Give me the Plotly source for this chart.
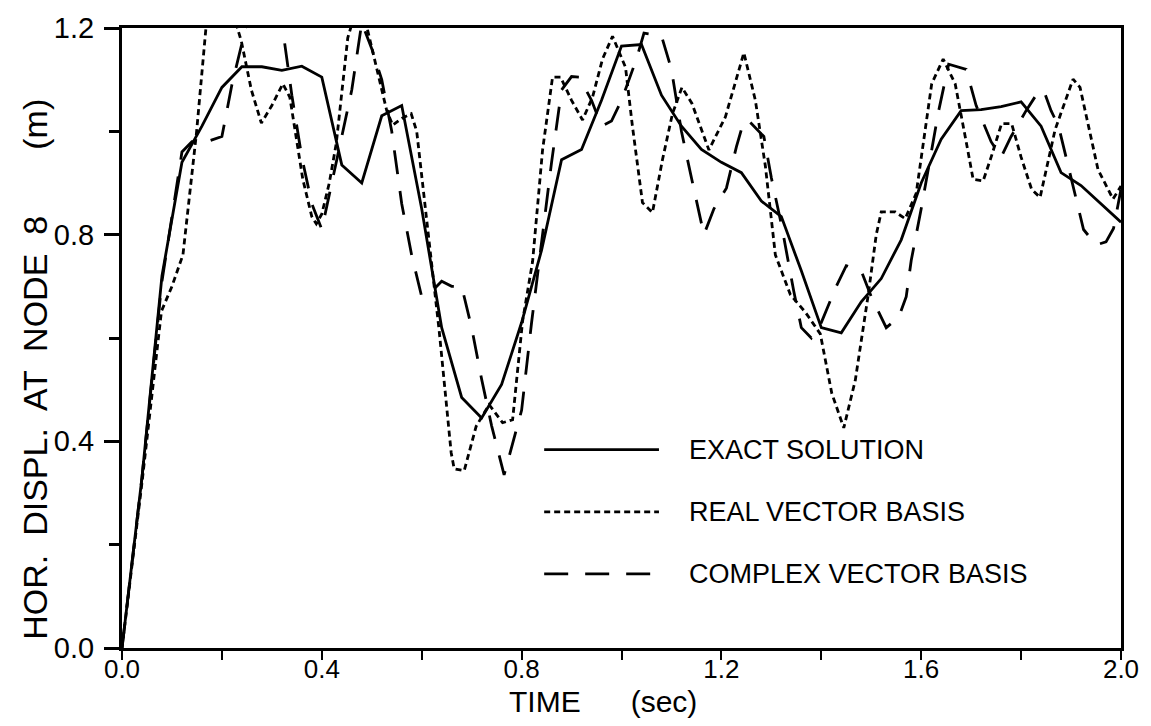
import plotly.graph_objects as go

# ---------------- data ----------------
t_exact = [0, 0.04, 0.08, 0.12, 0.16, 0.20, 0.24, 0.28, 0.32, 0.36, 0.40, 0.44, 0.48, 0.52,
           0.56, 0.60, 0.64, 0.68, 0.72, 0.76, 0.80, 0.84, 0.88, 0.92, 0.96, 1.00, 1.04, 1.08,
           1.12, 1.16, 1.20, 1.24, 1.28, 1.32, 1.36, 1.40, 1.44, 1.48, 1.52, 1.56, 1.60, 1.64,
           1.68, 1.72, 1.76, 1.80, 1.84, 1.88, 1.92, 1.96, 2.00]
y_exact = [0.00, 0.33, 0.72, 0.94, 1.01, 1.085, 1.125, 1.125, 1.118, 1.126, 1.105, 0.935, 0.90,
           1.03, 1.05, 0.85, 0.62, 0.485, 0.445, 0.51, 0.63, 0.77, 0.945, 0.965, 1.06, 1.165,
           1.168, 1.07, 1.01, 0.965, 0.94, 0.92, 0.865, 0.835, 0.73, 0.62, 0.61, 0.67, 0.715,
           0.79, 0.90, 0.985, 1.04, 1.042, 1.048, 1.057, 1.01, 0.92, 0.895, 0.86, 0.824]

t_real = [0, 0.04, 0.079, 0.10, 0.122, 0.149, 0.169, 0.20, 0.239, 0.259, 0.279, 0.30, 0.322,
          0.336, 0.362, 0.38, 0.389, 0.40, 0.415, 0.429, 0.452, 0.47, 0.489, 0.509, 0.53, 0.542,
          0.56, 0.579, 0.59, 0.609, 0.625, 0.635, 0.659, 0.665, 0.685, 0.709, 0.735, 0.762,
          0.782, 0.802, 0.822, 0.842, 0.862, 0.878, 0.90, 0.922, 0.942, 0.962, 0.982, 1.008,
          1.022, 1.042, 1.062, 1.082, 1.102, 1.121, 1.141, 1.175, 1.208, 1.245, 1.268, 1.288,
          1.308, 1.338, 1.368, 1.398, 1.421, 1.445, 1.468, 1.494, 1.51, 1.52, 1.548, 1.568,
          1.59, 1.621, 1.644, 1.668, 1.69, 1.704, 1.724, 1.74, 1.761, 1.781, 1.80, 1.821,
          1.838, 1.868, 1.904, 1.918, 1.954, 1.984, 2.0]
y_real = [0, 0.32, 0.652, 0.70, 0.761, 0.996, 1.21, 1.30, 1.174, 1.08, 1.016, 1.05, 1.092,
          1.066, 0.907, 0.835, 0.821, 0.84, 0.90, 0.977, 1.181, 1.24, 1.207, 1.124, 1.04,
          1.012, 1.025, 1.034, 1.0, 0.837, 0.697, 0.614, 0.378, 0.347, 0.343, 0.429, 0.471,
          0.436, 0.442, 0.633, 0.748, 0.964, 1.105, 1.105, 1.06, 1.022, 1.066, 1.14, 1.184,
          1.124, 1.009, 0.862, 0.843, 0.945, 1.034, 1.085, 1.054, 0.964, 1.028, 1.152, 1.06,
          0.933, 0.761, 0.684, 0.65, 0.608, 0.493, 0.426, 0.518, 0.684, 0.80, 0.844, 0.844,
          0.831, 0.88, 1.092, 1.14, 1.092, 0.98, 0.907, 0.904, 0.95, 1.015, 1.015, 0.95, 0.888,
          0.872, 1.003, 1.101, 1.085, 0.926, 0.869, 0.894]

t_cplx = [0, 0.04, 0.08, 0.12, 0.14, 0.17, 0.20, 0.22, 0.24, 0.255, 0.285, 0.32, 0.34, 0.36,
          0.38, 0.40, 0.42, 0.44, 0.46, 0.48, 0.50, 0.52, 0.54, 0.56, 0.58, 0.60, 0.62, 0.64,
          0.66, 0.68, 0.70, 0.72, 0.74, 0.765, 0.78, 0.80, 0.82, 0.83, 0.86, 0.88, 0.90, 0.915,
          0.94, 0.96, 0.98, 1.00, 1.03, 1.045, 1.08, 1.10, 1.12, 1.14, 1.155, 1.165, 1.185,
          1.21, 1.23, 1.245, 1.255, 1.285, 1.30, 1.32, 1.345, 1.36, 1.38, 1.40, 1.43, 1.45,
          1.48, 1.50, 1.53, 1.555, 1.57, 1.58, 1.60, 1.62, 1.635, 1.655, 1.69, 1.71, 1.74,
          1.76, 1.78, 1.81, 1.83, 1.845, 1.86, 1.875, 1.89, 1.91, 1.925, 1.95, 1.97, 1.985, 2.0]
y_cplx = [0, 0.33, 0.71, 0.96, 0.98, 0.98, 0.99, 1.09, 1.17, 1.23, 1.25, 1.21, 1.07, 0.95,
          0.86, 0.81, 0.90, 0.99, 1.08, 1.21, 1.16, 1.10, 1.00, 0.86, 0.76, 0.68, 0.69, 0.71,
          0.70, 0.70, 0.62, 0.52, 0.43, 0.335, 0.39, 0.46, 0.63, 0.71, 0.94, 1.08, 1.106,
          1.105, 1.06, 1.01, 1.02, 1.06, 1.14, 1.19, 1.185, 1.12, 1.00, 0.91, 0.84, 0.80, 0.85,
          0.89, 0.97, 1.02, 1.02, 0.99, 0.91, 0.82, 0.69, 0.62, 0.60, 0.63, 0.70, 0.74, 0.73,
          0.68, 0.62, 0.64, 0.68, 0.75, 0.85, 0.96, 1.04, 1.13, 1.12, 1.05, 0.98, 0.95, 0.99,
          1.04, 1.07, 1.08, 1.04, 1.01, 0.95, 0.87, 0.81, 0.78, 0.786, 0.812, 0.888]

series_names = ["EXACT SOLUTION", "REAL VECTOR BASIS", "COMPLEX VECTOR BASIS"]
x_tickvals = [0, 0.4, 0.8, 1.2, 1.6, 2.0]
x_ticktext = ["0.0", "0.4", "0.8", "1.2", "1.6", "2.0"]
y_tickvals = [0, 0.4, 0.8, 1.2]
y_ticktext = ["0.0", "0.4", "0.8", "1.2"]

# ---------------- styles ----------------
dashes = ["solid", "6px,4px", "24px,17px"]
SANS = "Liberation Sans, Arial, Helvetica, sans-serif"

fig = go.Figure()
for t, y, name, d in zip([t_exact, t_real, t_cplx], [y_exact, y_real, y_cplx],
                         series_names, dashes):
    fig.add_trace(go.Scatter(x=t, y=y, mode="lines", name=name,
                             line=dict(color="black", width=2.8, dash=d),
                             showlegend=False))

# drawn legend: sample lines + labels
legend_y = [0.320, 0.2197, 0.1194]
for ly, name, d in zip(legend_y, series_names, dashes):
    fig.add_shape(type="line", xref="paper", yref="paper", x0=0.4226, x1=0.5375,
                  y0=ly, y1=ly, line=dict(color="black", width=2.8, dash=d))
    fig.add_annotation(xref="paper", yref="paper", x=0.5654, y=ly, text=name,
                       showarrow=False, xanchor="left", yanchor="middle",
                       font=dict(family=SANS, size=27, color="black"))

# axis titles
fig.add_annotation(xref="paper", yref="paper", x=-0.087, y=0.449,
                   text="HOR.  DISPL.  AT  NODE  8       (m)", textangle=-90,
                   showarrow=False, xanchor="center", yanchor="middle",
                   font=dict(family=SANS, size=34, color="black"))
fig.add_annotation(xref="paper", yref="paper", x=0.4815, y=-0.086,
                   text="TIME      (sec)", showarrow=False,
                   xanchor="center", yanchor="middle",
                   font=dict(family=SANS, size=30, color="black"))

fig.update_layout(
    width=1151, height=726,
    margin=dict(l=122, r=28, t=20, b=78),
    paper_bgcolor="white", plot_bgcolor="white",
    showlegend=False,
)
fig.update_xaxes(range=[0, 2.0], tickvals=x_tickvals, ticktext=x_ticktext,
                 ticks="outside", ticklen=9, tickwidth=2, tickcolor="black",
                 minor=dict(dtick=0.2, ticks="outside", ticklen=9, tickwidth=2,
                            tickcolor="black", showgrid=False),
                 showline=True, linewidth=3, linecolor="black", mirror=True,
                 showgrid=False, zeroline=False, ticklabelstandoff=-13,
                 tickfont=dict(family=SANS, size=26, color="black"))
fig.update_yaxes(range=[0, 1.2], tickvals=y_tickvals, ticktext=y_ticktext,
                 ticks="outside", ticklen=15, tickwidth=3, tickcolor="black",
                 minor=dict(dtick=0.2, ticks="outside", ticklen=10, tickwidth=3,
                            tickcolor="black", showgrid=False),
                 showline=True, linewidth=3, linecolor="black", mirror=True,
                 showgrid=False, zeroline=False, ticklabelstandoff=4,
                 tickfont=dict(family=SANS, size=29, color="black"))

fig.write_html("out.html")
